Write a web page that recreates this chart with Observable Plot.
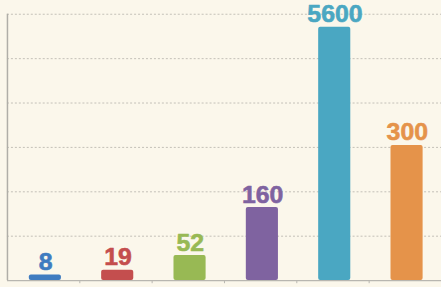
<!DOCTYPE html>
<html>
<head>
<meta charset="utf-8">
<script src="https://cdn.jsdelivr.net/npm/d3@7"></script>
<script src="https://cdn.jsdelivr.net/npm/@observablehq/plot@0.6"></script>
<style>
  html, body { margin: 0; padding: 0; background: #fbf7eb; overflow: hidden; }
  #chart svg { display: block; }
</style>
</head>
<body>
<div id="chart"></div>
<script>
// Data
const categories = ["A", "B", "C", "D", "E", "F"];
const values = [8, 19, 52, 160, 5600, 300];
const colors = ["#3f7cc0", "#c44e4e", "#98b954", "#7f63a0", "#4aa7c2", "#e5934a"];
const yTicks = [100, 200, 300, 400, 500, 600];
const breakValue = 566; // axis break: the tallest bar is truncated here

const data = categories.map((c, i) => ({i, c, value: values[i], color: colors[i]}));
const boundaries = d3.range(1, categories.length + 1);

const chart = Plot.plot({
  width: 444,
  height: 287,
  marginLeft: 7,
  marginRight: 0,
  marginTop: 0,
  marginBottom: 5,
  style: {background: "#fbf7eb", overflow: "visible"},
  x: {type: "linear", domain: [0, categories.length], axis: null},
  y: {domain: [0, 631], axis: null},
  marks: [
    Plot.ruleY(yTicks, {stroke: "#bdbab2", strokeWidth: 1, strokeDasharray: "2,2", strokeOpacity: 0.9}),
    Plot.ruleY([0], {stroke: "#b8b6b0", strokeWidth: 1.2}),
    Plot.ruleX([0], {y1: 0, y2: 600, stroke: "#b0aea8", strokeWidth: 1.5}),
    Plot.ruleX(boundaries, {x: d => d, y1: 0, y2: -7, stroke: "#b8b6b0", strokeWidth: 1}),
    Plot.rectY(data, {
      x1: d => d.i, x2: d => d.i + 1,
      y1: 0, y2: d => Math.min(d.value, breakValue),
      fill: d => d.color,
      insetLeft: 22, insetRight: 18.5, insetTop: -2,
      rx: 2
    }),
    Plot.text(data, {
      x: d => d.i + 0.5,
      y: d => Math.min(d.value, breakValue),
      text: d => String(d.value),
      fill: d => d.color,
      dx: 2,
      dy: -15,
      fontSize: 25,
      fontWeight: "bold",
      fontFamily: "Liberation Sans, Arial, sans-serif",
      letterSpacing: "-0.8px",
      stroke: d => d.color,
      strokeWidth: 0.6
    })
  ]
});
document.getElementById("chart").appendChild(chart);
</script>
</body>
</html>
